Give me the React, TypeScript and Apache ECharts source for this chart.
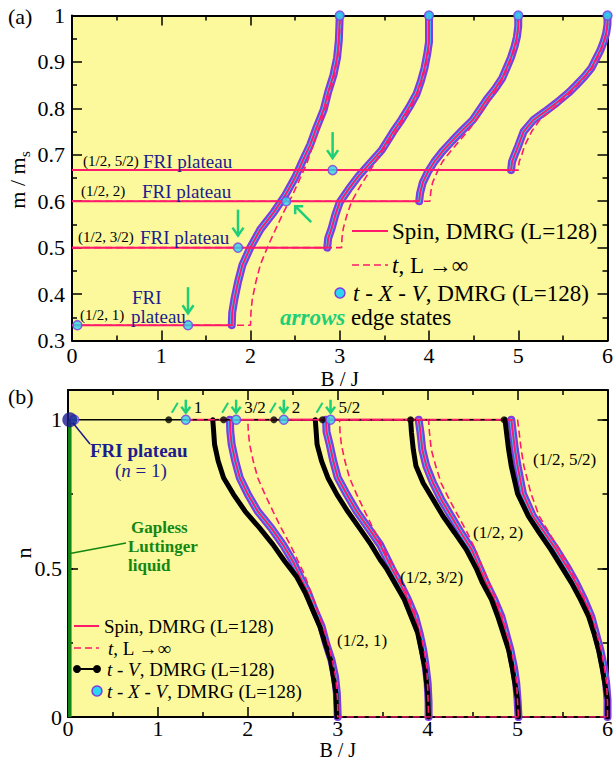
import React, { useEffect, useRef } from "react";
import * as echarts from "echarts";

type Pt = [number, number];

// ---------- Panel (a): m / m_s versus B / J ----------
const spinA1: Pt[] = [[0,0.333],[1.79,0.333],[1.795,0.36],[1.82,0.389],[1.86,0.426],[1.91,0.463],[2.0,0.501],[2.11,0.539],[2.26,0.576],[2.39,0.613],[2.5,0.651],[2.58,0.685],[2.67,0.722],[2.74,0.759],[2.82,0.797],[2.87,0.835],[2.93,0.872],[2.97,0.909],[2.99,0.947],[3.0,1.0]];
const spinA2: Pt[] = [[0,0.5],[2.86,0.5],[2.87,0.52],[2.91,0.542],[2.95,0.57],[3.0,0.598],[3.1,0.626],[3.21,0.654],[3.34,0.682],[3.47,0.71],[3.6,0.75],[3.69,0.775],[3.78,0.803],[3.86,0.831],[3.91,0.859],[3.95,0.887],[3.98,0.917],[4.0,0.943],[4.0,1.0]];
const spinA3: Pt[] = [[0,0.6],[3.89,0.6],[3.9,0.617],[3.93,0.64],[3.985,0.662],[4.06,0.685],[4.15,0.707],[4.26,0.73],[4.37,0.752],[4.49,0.775],[4.58,0.8],[4.65,0.82],[4.74,0.842],[4.82,0.865],[4.87,0.887],[4.92,0.91],[4.96,0.934],[4.985,0.954],[5.0,0.977],[5.0,1.0]];
const spinA4: Pt[] = [[0,0.667],[4.92,0.667],[4.93,0.685],[4.96,0.7],[5.0,0.719],[5.06,0.75],[5.17,0.775],[5.3,0.793],[5.43,0.812],[5.56,0.833],[5.65,0.85],[5.74,0.868],[5.82,0.887],[5.87,0.906],[5.92,0.925],[5.96,0.945],[5.985,0.962],[6.0,0.981],[6.0,1.0]];

const dashA1: Pt[] = [[0,0.333],[2.0,0.333],[2.005,0.36],[2.02,0.389],[2.06,0.426],[2.11,0.463],[2.19,0.501],[2.28,0.539],[2.37,0.576],[2.47,0.613],[2.56,0.651],[2.63,0.681],[2.7,0.72],[2.77,0.76],[2.84,0.8],[2.89,0.833],[2.94,0.873],[2.98,0.913],[3.0,0.967],[3.0,1.0]];
const dashA2: Pt[] = [[0,0.5],[3.02,0.5],[3.025,0.52],[3.04,0.542],[3.08,0.57],[3.13,0.598],[3.21,0.626],[3.3,0.654],[3.39,0.682],[3.5,0.715],[3.63,0.75],[3.71,0.775],[3.8,0.803],[3.87,0.831],[3.92,0.859],[3.96,0.887],[3.99,0.917],[4.0,0.95],[4.0,1.0]];
const dashA3: Pt[] = [[0,0.6],[4.01,0.6],[4.02,0.62],[4.04,0.64],[4.09,0.662],[4.15,0.685],[4.24,0.707],[4.34,0.73],[4.44,0.752],[4.53,0.775],[4.61,0.8],[4.68,0.82],[4.76,0.842],[4.83,0.865],[4.88,0.887],[4.93,0.91],[4.97,0.934],[4.99,0.954],[5.0,0.98],[5.0,1.0]];
const dashA4: Pt[] = [[0,0.667],[5.0,0.667],[5.01,0.685],[5.04,0.7],[5.07,0.719],[5.15,0.75],[5.24,0.775],[5.35,0.793],[5.46,0.812],[5.58,0.833],[5.66,0.85],[5.75,0.868],[5.83,0.887],[5.88,0.906],[5.93,0.925],[5.965,0.945],[5.99,0.962],[6.0,0.983],[6.0,1.0]];

const edgeStatesA: Pt[] = [[1.3,0.333],[1.86,0.5],[2.4,0.6],[2.92,0.667]];
const edgeArrowDirA = ["down", "down", "upleft", "down"];
const extraMarksA: Pt[] = [[0.06,0.333],[3,1],[4,1],[5,1],[6,1]];
const plateauLabelsA = ["(1/2, 1)", "(1/2, 3/2)", "(1/2, 2)", "(1/2, 5/2)"];

// ---------- Panel (b): n versus B / J ----------
const spinB1: Pt[] = [[1.31,1],[1.8,1],[1.805,0.96],[1.82,0.917],[1.86,0.861],[1.91,0.805],[2.0,0.749],[2.11,0.692],[2.26,0.636],[2.39,0.58],[2.5,0.524],[2.58,0.473],[2.67,0.417],[2.74,0.361],[2.82,0.305],[2.87,0.248],[2.93,0.192],[2.97,0.136],[2.99,0.08],[3.0,0]];
const spinB2: Pt[] = [[1.87,1],[2.87,1],[2.875,0.96],[2.91,0.917],[2.95,0.861],[3.0,0.805],[3.1,0.749],[3.21,0.692],[3.34,0.636],[3.47,0.58],[3.6,0.5],[3.69,0.451],[3.78,0.395],[3.86,0.338],[3.91,0.282],[3.95,0.226],[3.98,0.166],[4.0,0.114],[4.01,0.05],[4.01,0]];
const spinB3: Pt[] = [[2.4,1],[3.9,1],[3.92,0.957],[3.94,0.9],[3.985,0.844],[4.06,0.787],[4.15,0.732],[4.26,0.676],[4.37,0.62],[4.49,0.563],[4.58,0.5],[4.65,0.451],[4.74,0.395],[4.82,0.338],[4.87,0.282],[4.92,0.226],[4.96,0.166],[4.985,0.114],[5.0,0.057],[5.01,0]];
const spinB4: Pt[] = [[2.92,1],[4.93,1],[4.95,0.95],[4.97,0.9],[5.0,0.844],[5.06,0.751],[5.17,0.676],[5.3,0.62],[5.43,0.563],[5.56,0.5],[5.65,0.451],[5.74,0.395],[5.82,0.338],[5.87,0.282],[5.92,0.226],[5.96,0.166],[5.985,0.114],[6.0,0.057],[6.0,0]];

const tvB1: Pt[] = [[1.61,1],[1.62,0.96],[1.63,0.917],[1.67,0.861],[1.73,0.805],[1.84,0.749],[1.97,0.692],[2.13,0.636],[2.28,0.58],[2.41,0.524],[2.54,0.473],[2.64,0.417],[2.72,0.361],[2.8,0.305],[2.86,0.248],[2.92,0.192],[2.95,0.136],[2.98,0.08],[2.99,0]];
const tvB2: Pt[] = [[2.75,1],[2.76,0.96],[2.77,0.917],[2.82,0.861],[2.89,0.805],[2.99,0.749],[3.11,0.692],[3.24,0.636],[3.37,0.58],[3.47,0.53],[3.54,0.5],[3.74,0.395],[3.89,0.282],[3.97,0.166],[4.0,0.08],[4.01,0]];
const tvB3: Pt[] = [[3.81,1],[3.82,0.957],[3.84,0.9],[3.87,0.844],[3.95,0.787],[4.06,0.732],[4.17,0.676],[4.3,0.62],[4.43,0.563],[4.54,0.5],[4.61,0.451],[4.71,0.395],[4.78,0.338],[4.84,0.282],[4.9,0.226],[4.94,0.166],[4.97,0.114],[5.0,0.057],[5.01,0]];
const tvB4: Pt[] = [[4.86,1],[4.88,0.95],[4.9,0.9],[4.93,0.844],[5.0,0.751],[5.12,0.676],[5.24,0.62],[5.37,0.563],[5.5,0.5],[5.6,0.451],[5.7,0.395],[5.79,0.338],[5.85,0.282],[5.9,0.226],[5.94,0.166],[5.97,0.114],[6.0,0.057],[6.0,0]];
const tvPlateau: Pt[] = [[0,1],[4.86,1]];
const tvDots: Pt[] = [[1.12,1],[1.73,1],[2.29,1],[2.83,1],[3.81,1],[4.85,1]];

const dashB1: Pt[] = [[1.31,1],[2.0,1],[2.005,0.96],[2.02,0.917],[2.06,0.861],[2.11,0.805],[2.19,0.749],[2.28,0.692],[2.37,0.636],[2.47,0.58],[2.56,0.524],[2.63,0.479],[2.7,0.42],[2.77,0.36],[2.84,0.3],[2.89,0.25],[2.94,0.19],[2.98,0.13],[3.0,0.05],[3.0,0],[6,0]];
const dashB2: Pt[] = [[1.87,1],[3.02,1],[3.025,0.96],[3.04,0.917],[3.08,0.861],[3.13,0.805],[3.21,0.749],[3.3,0.692],[3.39,0.636],[3.5,0.57],[3.63,0.5],[3.71,0.45],[3.8,0.395],[3.87,0.338],[3.92,0.282],[3.96,0.226],[3.99,0.166],[4.0,0.1],[4.01,0]];
const dashB3: Pt[] = [[2.4,1],[4.01,1],[4.02,0.957],[4.04,0.9],[4.09,0.844],[4.15,0.787],[4.24,0.732],[4.34,0.676],[4.44,0.62],[4.53,0.563],[4.61,0.5],[4.68,0.451],[4.76,0.395],[4.83,0.338],[4.88,0.282],[4.93,0.226],[4.97,0.166],[4.99,0.114],[5.0,0.05],[5.01,0]];
const dashB4: Pt[] = [[2.92,1],[5.0,1],[5.02,0.95],[5.04,0.9],[5.07,0.844],[5.15,0.751],[5.24,0.676],[5.35,0.62],[5.46,0.563],[5.58,0.5],[5.66,0.451],[5.75,0.395],[5.83,0.338],[5.88,0.282],[5.93,0.226],[5.965,0.166],[5.99,0.114],[6.0,0.05],[6.0,0]];

const edgeStatesB: number[] = [1.31, 1.87, 2.4, 2.92];
const edgeLabelsB = ["1", "3/2", "2", "5/2"];
const extraMarksB: Pt[] = [[0.07,1]];
const friDotB: Pt[] = [[0.02,1]];
const luttingerB: Pt[] = [[0.02,0],[0.02,1]];
const curveLabelsB = ["(1/2, 1)", "(1/2, 3/2)", "(1/2, 2)", "(1/2, 5/2)"];

const xTicks = [0, 1, 2, 3, 4, 5, 6];

// ---------- styles ----------
const FONT = "Liberation Serif, Times New Roman, serif";
const BG = "#FBF99B";
const PINK = "#FF1A6C";
const PURPLE = "#7E3BE2";
const CYAN = "#2AD6F0";
const NAVY = "#1C1C8E";
const ARROW = "#1DCF78";
const DKGREEN = "#138613";

export default function App() {
  const ref = useRef<HTMLDivElement>(null);
  useEffect(() => {
    const el = ref.current!;
    const chart = echarts.init(el, undefined, { renderer: "svg" });

    const axisCommon = (labels: boolean, margin = 5, minor = true) => ({
      axisLine: { show: true, onZero: false, lineStyle: { color: "#000", width: 2 } },
      axisTick: { show: true, inside: true, length: 10, lineStyle: { color: "#000", width: 1.5 } },
      minorTick: { show: minor, splitNumber: 2, length: 5, lineStyle: { color: "#000", width: 1.5 } },
      splitLine: { show: false },
      minorSplitLine: { show: false },
      axisLabel: labels
        ? { show: true, fontSize: 22, lineHeight: 17, fontFamily: FONT, color: "#000", margin }
        : { show: false },
    });

    const xMin = xTicks[0];
    const xMax = xTicks[xTicks.length - 1];

    const lineS = (data: Pt[], ax: number, lineStyle: any, z: number) => ({
      type: "line", xAxisIndex: ax, yAxisIndex: ax, data, symbol: "none", showSymbol: false,
      lineStyle, z, silent: true,
    });
    const scatterS = (data: Pt[], ax: number, size: number, itemStyle: any, z: number) => ({
      type: "scatter", xAxisIndex: ax, yAxisIndex: ax, data, symbol: "circle", symbolSize: size,
      itemStyle, z, silent: true,
    });

    const spinsA = [spinA1, spinA2, spinA3, spinA4];
    const dashesA = [dashA1, dashA2, dashA3, dashA4];
    const spinsB = [spinB1, spinB2, spinB3, spinB4];
    const dashesB = [dashB1, dashB2, dashB3, dashB4];
    const tvsB = [tvB1, tvB2, tvB3, tvB4];

    const series: any[] = [];
    // panel (a)
    spinsA.forEach((s) => series.push(lineS(s.slice(1), 0, { color: PURPLE, width: 8, cap: "round", join: "round" }, 2)));
    spinsA.forEach((s) => series.push(lineS(s.slice(1), 0, { color: CYAN, width: 3.5, cap: "round", join: "round" }, 3)));
    spinsA.forEach((s) => series.push(lineS(s, 0, { color: PINK, width: 2 }, 4)));
    dashesA.forEach((s) => series.push(lineS(s, 0, { color: PINK, width: 1.6, type: [7, 4] }, 5)));
    series.push(scatterS([...extraMarksA, ...edgeStatesA], 0, 9, { color: CYAN, borderColor: PURPLE, borderWidth: 1.5 }, 6));

    // panel (b)
    series.push(lineS(luttingerB, 2, { color: DKGREEN, width: 3.5 }, 2));
    spinsB.forEach((s) => series.push(lineS(s.slice(1), 2, { color: PURPLE, width: 8, cap: "round", join: "round" }, 3)));
    spinsB.forEach((s) => series.push(lineS(s.slice(1), 2, { color: CYAN, width: 3.5, cap: "round", join: "round" }, 4)));
    spinsB.forEach((s) => series.push(lineS(s, 2, { color: PINK, width: 2 }, 5)));
    series.push(lineS(tvPlateau, 2, { color: "#000", width: 1.6 }, 6));
    tvsB.forEach((s) => series.push(lineS(s, 2, { color: "#000", width: 5, cap: "round" }, 6)));
    dashesB.forEach((s) => series.push(lineS(s, 2, { color: PINK, width: 1.6, type: [7, 4] }, 7)));
    series.push(scatterS(tvDots, 2, 7, { color: "#000" }, 8));
    series.push(scatterS([...extraMarksB, ...edgeStatesB.map((b) => [b, 1] as Pt)], 2, 9, { color: CYAN, borderColor: PURPLE, borderWidth: 1.5 }, 9));
    series.push(scatterS(friDotB, 2, 15, { color: NAVY }, 10));

    const option: any = {
      animation: false,
      grid: [
        { left: 72, top: 15.5, width: 537, height: 325, show: true, backgroundColor: BG, borderWidth: 0 },
        { left: 68, top: 390, width: 540, height: 327, show: true, backgroundColor: BG, borderWidth: 0 },
      ],
      xAxis: [
        { type: "value", gridIndex: 0, position: "bottom", min: xMin, max: xMax, interval: 1, ...axisCommon(true, 6) },
        { type: "value", gridIndex: 0, position: "top", min: xMin, max: xMax, interval: 1, ...axisCommon(false) },
        { type: "value", gridIndex: 1, position: "bottom", min: xMin, max: xMax, interval: 1, ...axisCommon(true, 3) },
        { type: "value", gridIndex: 1, position: "top", min: xMin, max: xMax, interval: 1, ...axisCommon(false) },
      ],
      yAxis: [
        { type: "value", gridIndex: 0, position: "left", min: 0.3, max: 1, interval: 0.1, ...axisCommon(true, 7) },
        { type: "value", gridIndex: 0, position: "right", min: 0.3, max: 1, interval: 0.1, ...axisCommon(false) },
        (() => {
          const c: any = axisCommon(true, 6, false);
          c.axisLabel.formatter = (v: number) => (v > 1.01 ? "" : String(v));
          return { type: "value", gridIndex: 1, position: "left", min: 0, max: 1.1, interval: 0.5, ...c };
        })(),
        { type: "value", gridIndex: 1, position: "right", min: 0, max: 1.1, interval: 0.5, ...axisCommon(false, 5, false) },
        {
          type: "value", gridIndex: 1, position: "left", min: 0, max: 1.1, interval: 0.25,
          axisLine: { show: false, onZero: false }, axisLabel: { show: false }, splitLine: { show: false },
          axisTick: { show: true, inside: true, length: 5, lineStyle: { color: "#000", width: 1.5 } },
        },
        {
          type: "value", gridIndex: 1, position: "right", min: 0, max: 1.1, interval: 0.25,
          axisLine: { show: false, onZero: false }, axisLabel: { show: false }, splitLine: { show: false },
          axisTick: { show: true, inside: true, length: 5, lineStyle: { color: "#000", width: 1.5 } },
        },
      ],
      series,
    };
    chart.setOption(option);

    const xa = (v: number) => chart.convertToPixel({ xAxisIndex: 0 } as any, v) as unknown as number;
    const ya = (v: number) => chart.convertToPixel({ yAxisIndex: 0 } as any, v) as unknown as number;
    const xb = (v: number) => chart.convertToPixel({ xAxisIndex: 2 } as any, v) as unknown as number;
    const yb = (v: number) => chart.convertToPixel({ yAxisIndex: 2 } as any, v) as unknown as number;

    const txt = (text: string, x: number, y: number, size: number, o: any = {}) => ({
      type: "text", x, y, z: 100, silent: true, rotation: o.rotation || 0,
      style: {
        text, fontSize: size, fontFamily: FONT, fill: o.fill || "#000",
        fontWeight: o.bold ? "bold" : "normal", fontStyle: o.italic ? "italic" : "normal",
        align: o.align || "left", verticalAlign: "middle", rich: o.rich,
        lineHeight: o.lh || undefined,
      },
    });
    const ital = (size: number, fill = "#000", bold = false) => ({
      fontStyle: "italic", fontSize: size, fontFamily: FONT, fill, fontWeight: bold ? "bold" : "normal",
    });
    const seg = (x1: number, y1: number, x2: number, y2: number, stroke: string, w: number, dash?: number[]) => ({
      type: "line", z: 100, silent: true, shape: { x1, y1, x2, y2 },
      style: { stroke, lineWidth: w, lineDash: dash, lineCap: "butt" },
    });
    const poly = (points: number[][], stroke: string, w: number) => ({
      type: "polyline", z: 100, silent: true, shape: { points }, style: { stroke, lineWidth: w, fill: null },
    });
    const dot = (cx: number, cy: number, r: number, fill: string, stroke?: string) => ({
      type: "circle", z: 100, silent: true, shape: { cx, cy, r },
      style: { fill, stroke: stroke || null, lineWidth: 1.5 },
    });

    const g: any[] = [];
    // panel labels and axis names
    g.push(txt("(a)", 8, 16, 22));
    g.push(txt("(b)", 8, 396, 22));
    g.push(txt("m / m", 17, 183, 22, { rotation: Math.PI / 2, align: "center" }));
    g.push(txt("s", 25, 154, 15, { rotation: Math.PI / 2, align: "center" }));
    g.push(txt("n", 23, 553, 22, { rotation: Math.PI / 2, align: "center" }));
    g.push(txt("B / J", (xa(0) + xa(6)) / 2, 379, 21, { align: "center", lh: 17 }));
    g.push(txt("B / J", (xb(0) + xb(6)) / 2, 749.5, 20, { align: "center", lh: 16 }));

    // panel (a) plateau labels
    g.push(txt(plateauLabelsA[3], 83, 161, 15));
    g.push(txt("FRI plateau", 143, 161, 19, { fill: NAVY }));
    g.push(txt(plateauLabelsA[2], 81, 191, 15));
    g.push(txt("FRI plateau", 142, 191, 19, { fill: NAVY }));
    g.push(txt(plateauLabelsA[1], 78, 237, 15));
    g.push(txt("FRI plateau", 140, 237, 19, { fill: NAVY }));
    g.push(txt(plateauLabelsA[0], 80, 315, 15));
    g.push(txt("FRI", 132, 297, 19, { fill: NAVY }));
    g.push(txt("plateau", 131, 316, 19, { fill: NAVY }));

    // panel (a) legend
    g.push(seg(352, 231, 388, 231, PINK, 2));
    g.push(txt("Spin, DMRG (L=128)", 392, 231, 23));
    g.push(seg(352, 265, 388, 265, PINK, 1.6, [7, 4]));
    g.push(txt("{i|t}, L \u2192\u221e", 392, 265, 23, { rich: { i: ital(23) } }));
    g.push(dot(340, 293, 5, CYAN, PURPLE));
    g.push(txt("{i|t} - {i|X} - {i|V}, DMRG (L=128)", 353, 293, 23, { rich: { i: ital(23) } }));
    g.push(txt("{g|arrows} edge states", 280, 317, 23, { rich: { g: ital(23, ARROW, true) } }));

    // panel (a) edge-state arrows
    edgeStatesA.forEach(([b, m], i) => {
      const X = xa(b), Y = ya(m);
      if (edgeArrowDirA[i] === "down") {
        g.push(seg(X, Y - 38, X, Y - 12, ARROW, 2.5));
        g.push(poly([[X - 5.5, Y - 20], [X, Y - 12], [X + 5.5, Y - 20]], ARROW, 2.5));
      } else {
        const tx = X + 9, ty = Y + 5;
        g.push(seg(tx, ty, tx + 16, ty + 16, ARROW, 2.5));
        g.push(poly([[tx + 8, ty], [tx, ty], [tx, ty + 8]], ARROW, 2.5));
      }
    });

    // panel (b) edge-state arrows
    edgeStatesB.forEach((b, i) => {
      const X = xb(b), Y = yb(1);
      g.push(seg(X, Y - 20, X, Y - 7, ARROW, 2.5));
      g.push(poly([[X - 4.5, Y - 13], [X, Y - 7], [X + 4.5, Y - 13]], ARROW, 2.5));
      g.push(seg(X - 14, Y - 7, X - 8, Y - 17, ARROW, 2));
      g.push(txt(edgeLabelsB[i], X + 8, Y - 12, 17));
    });

    // panel (b) annotations
    const fx = xb(friDotB[0][0]), fy = yb(friDotB[0][1]);
    g.push(seg(fx + 3, fy + 3, 90, 444, NAVY, 1.5));
    g.push(txt("FRI plateau", 90, 450, 19, { fill: NAVY, bold: true }));
    g.push(txt("({i|n} = 1)", 115, 470, 19, { fill: NAVY, rich: { i: ital(19, NAVY) } }));
    g.push(seg(xb(0) + 2, yb(0.55), 126, 543, DKGREEN, 1.5));
    g.push(txt("Gapless", 131, 527, 17, { fill: DKGREEN, bold: true, lh: 16 }));
    g.push(txt("Luttinger", 128, 546, 17, { fill: DKGREEN, bold: true, lh: 16 }));
    g.push(txt("liquid", 128, 565, 17, { fill: DKGREEN, bold: true, lh: 16 }));

    g.push(txt(curveLabelsB[3], 533, 459, 17));
    g.push(txt(curveLabelsB[2], 473, 532, 17));
    g.push(txt(curveLabelsB[1], 400, 577, 17));
    g.push(txt(curveLabelsB[0], 337, 640, 17));

    // panel (b) legend
    g.push(seg(74, 626, 99, 626, PINK, 2));
    g.push(txt("Spin, DMRG (L=128)", 104, 626, 19));
    g.push(seg(74, 648, 99, 648, PINK, 1.6, [7, 4]));
    g.push(txt("{i|t}, L \u2192\u221e", 108, 648, 19, { rich: { i: ital(19) } }));
    g.push(seg(77, 669, 97, 669, "#000", 2));
    g.push(dot(77, 669, 4, "#000"));
    g.push(dot(97, 669, 4, "#000"));
    g.push(txt("{i|t} - {i|V}, DMRG (L=128)", 107, 669, 19, { rich: { i: ital(19) } }));
    g.push(dot(97, 691, 5, CYAN, PURPLE));
    g.push(txt("{i|t} - {i|X} - {i|V}, DMRG (L=128)", 107, 691, 19, { rich: { i: ital(19) } }));

    chart.setOption({ graphic: g });

    return () => chart.dispose();
  }, []);
  return <div ref={ref} style={{ position: "absolute", left: 0, top: 0, width: 616, height: 760 }} />;
}
